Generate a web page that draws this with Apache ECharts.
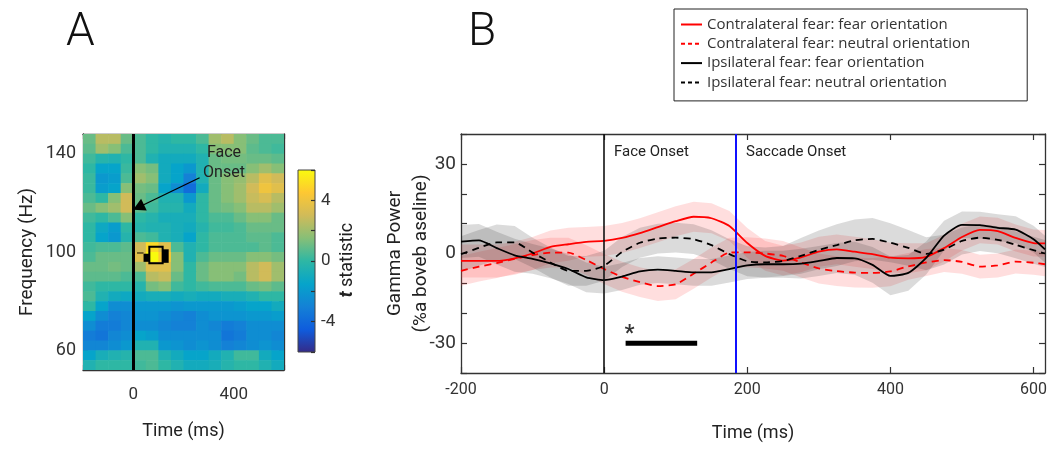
<!DOCTYPE html>
<html><head><meta charset="utf-8">
<script src="https://cdn.jsdelivr.net/npm/echarts@6/dist/echarts.min.js"></script>
<style>html,body{margin:0;padding:0;background:#fff}#c{width:1051px;height:449px}</style>
</head><body><div id="c"></div>
<script>
// ---------- Panel A: time-frequency t statistic ----------
const heatTimes = [-175,-125,-75,-25,25,75,125,175,225,275,325,375,425,475,525,575];
const heatFreqs = [146,142,138,134,130,126,122,118,114,110,106,102,98,94,90,86,82,78,74,70,66,62,58,54];
const heatRows = [
  [1,2.5,2.5,1,0.5,0,-0.3,0,0,0.5,2,2.5,1.5,1,0.5,0.5],
  [0.8,2,1.5,0.5,0.5,0,-0.5,-0.5,-0.5,0,1.5,1.5,1.5,0.8,0.5,0.3],
  [0.3,-0.3,-0.5,0,0.5,-0.5,-1,-1,-1,-0.5,1,1.2,1.2,1,1,0.8],
  [0,-1.5,-1.5,0.2,1.5,1.2,-1,-1.5,-2,-0.5,1,1,1,1.5,2,1.5],
  [0.2,-2,-1.8,0.5,2,1.5,-1,-1.5,-3,-0.5,1,1.5,1.8,2.5,3.5,3],
  [0.2,-1.8,-1.5,1.5,1.2,1,-1.5,-2.5,-3.8,-1,1,1.5,2,3,4,3.5],
  [0.5,0,1.5,3,1,0.5,-0.5,-0.5,-2,0,1,1.5,2,2.8,3.2,2.5],
  [1,1.5,2,3,0.8,0.3,-0.3,-0.3,-1,0,1,1.2,1.5,2.5,2.5,2],
  [0.3,0,0.5,1.5,0,-0.3,-0.8,-0.8,-0.8,0,0.5,0.5,1,1.5,1.5,1],
  [0,-1.2,-1.8,0,-0.3,-0.5,-0.5,-0.8,-1,-0.3,0.3,0.3,0.5,1,1,1],
  [0,-1.5,-2,-0.3,0.5,0.3,-0.5,-0.8,-1.5,0,0.5,0.5,0.5,0.8,0.8,0.5],
  [0.3,0.5,0.5,0.8,3,5,3.5,0.5,-0.5,0,0.5,0.5,0.5,0.5,0.8,0.5],
  [0.5,1,1,1,3.5,6,4.5,1.5,-0.5,0.5,1,1,1,1.5,1.5,1.2],
  [1,1,1.2,1,2,3.5,3.5,1.5,0,1,1.5,1.5,1.5,2.5,3,2],
  [0.8,0.8,0.8,0.5,0.5,2.5,2.8,1,0,1,1.5,1.5,1.2,2.5,3,2],
  [0.3,0,0,0,-0.3,1.2,1.5,0.3,0,0.3,0.5,0.5,0.5,1,1.2,0.8],
  [0.5,-0.5,-1,-1.2,-1,-0.8,-0.8,-1,-0.8,-1,-1,-0.8,-0.8,-0.5,0,0],
  [0,-1.5,-2.5,-2.5,-2,-2,-2,-2.2,-2,-2,-2,-2,-1.8,-1.5,-1.5,-1],
  [-1.5,-2.5,-3,-2.8,-2.2,-2.2,-2.5,-2.8,-3,-2.5,-2.2,-2.2,-2.2,-2,-2,-1.8],
  [-2.5,-3.2,-3.2,-2.8,-2.5,-2.5,-2.8,-3,-3,-2.5,-2.8,-3.2,-3,-2.5,-2.5,-2.5],
  [-3.2,-3.5,-2.8,-2.5,-1.5,-1.8,-2.5,-2.5,-2.5,-2.5,-2.5,-3.5,-3.2,-2.5,-2.5,-2.8],
  [-2.8,-2.8,-2.5,-2,-0.5,-0.5,-2,-2.2,-2.5,-2.2,-2.5,-3,-2.8,-2.5,-2.2,-2.5],
  [-1.5,-0.8,-0.5,-0.3,0.5,0.5,-0.5,-1,-1.5,-1.5,-1,-0.5,0.3,0.3,-1,-1.5],
  [-0.5,0,0,0,0.3,0.5,0,-0.5,-1,-1,-0.8,-0.3,0,0,-0.5,-1]
];
// significant cluster outline pieces (ms, Hz)
const clusterT1 = [64, 41, 117, 15];
const clusterT2 = [117, 64, 141, 41];
const clusterF1 = [95.4, 96.0, 95.6, 99.4];
const clusterF2 = [102.1, 99.3, 101.1, 99.8];
const clusterFilled = [0, 1, 1, 1];
const arrowFrom = [264, 130.2];
const arrowTo = [21, 118.2];
const heatTimeLabels = [0, 400];
const heatFreqLabels = [60, 100, 140];
const colorbarLabels = [-4, 0, 4];

// ---------- Panel B: gamma power ----------
const timeB = [-200,-175,-150,-125,-100,-75,-50,-25,0,25,50,75,100,125,150,175,200,225,250,275,300,325,350,375,400,425,450,475,500,525,550,575,600,616];
const contraFear =    [-2.5,-2.5,-2.5,-1.6,0,2.2,3.1,3.9,4.2,5.2,6.8,8.8,10.8,12.3,11.8,9.2,3.5,-0.8,-2.4,-1.3,0.6,1.4,0.6,-0.2,-1.4,-1.6,-1.1,1.8,5.5,7.9,7.5,5.2,3.5,3.4];
const contraNeutral = [-5.8,-4.4,-3.2,-1.8,-0.5,0.3,0.3,-2.2,-5.2,-7.8,-9.6,-10.9,-10.3,-6.8,-3,0.3,0.4,0,-0.8,-3,-5,-5.9,-6.4,-6.5,-6,-4.3,-3,-2.2,-2.8,-4.4,-4,-2.7,-3.1,-3.6];
const ipsiFear =      [4,4.4,1.8,-0.6,-1.8,-3.3,-5.2,-8,-8.9,-7.7,-6,-5.4,-5.8,-6.3,-6.3,-5.2,-4,-3.6,-3.6,-3.4,-2.5,-1.5,-1.6,-3.8,-7.5,-6.5,-1.5,6,9.6,9.5,8.6,8,4.8,1.4];
const ipsiNeutral =   [-0.2,1.9,3.7,3.7,0.3,-3,-5.8,-5.8,-4.1,0.5,3.6,5,5.3,4.8,2.8,-0.2,-2.6,-3,-2.5,-0.8,1.2,2.8,4.4,4.9,3.6,1.9,-0.1,1.3,4.2,5.3,4.6,2.9,1.1,0];
const contraFearSem =    [5.5,5.5,5.5,5.5,5.5,5.5,5.5,5,5,5,5,5,5,5,5,5,5,5,5,5,5,5,5,5,5,5,4.5,4.5,4.5,4.5,4.5,4.5,4.5,4.5];
const contraNeutralSem = [5,5,5,5,5,5,5,5,5,5,5,5,5,5,5,5,5,5,5,5,5,5,5,5,5,4.5,4.5,4,4,4,4,4,4,4];
const ipsiFearSem =      [5.5,5.5,5.5,5.5,5,5,5,5,4.5,4.5,4.5,4.5,4.5,4.5,4.5,4.5,4.5,4.5,4.5,5,5,5,5.5,6,6.5,6,5.5,5,4.5,4.5,4.5,4.5,4.5,4.5];
const ipsiNeutralSem =   [6,6,6,5.5,5,5,5,5,5,5,5,5,5,5,5,5,5,5,5,6,6.5,7,7,7,6.5,6,5.5,5,4.5,4.5,4.5,4.5,4.5,4.5];
const sigBar = [30, 130];
const sigLevel = -30;
const faceOnsetMs = 0;
const saccadeOnsetMs = 184;
const powerLabels = [-30, 0, 30];
const seriesNames = ['Contralateral fear: fear orientation','Contralateral fear: neutral orientation','Ipsilateral fear: fear orientation','Ipsilateral fear: neutral orientation'];

// ---------- build ----------
const FONT = 'Roboto, "Noto Sans", "DejaVu Sans", sans-serif';
const LEGFONT = '"Open Sans", Roboto, sans-serif';
const TXT = '#222';
const parula = ['#352a87','#0f5cdd','#1481d6','#06a4ca','#2eb7a4','#87bf77','#d1bb59','#fec832','#f9fb0e'];

const heatData = [];
heatFreqs.forEach((f, j) => heatTimes.forEach((t, i) => heatData.push([t, f, heatRows[j][i]])));
const tHalf = (heatTimes[1] - heatTimes[0]) / 2;
const fHalf = (heatFreqs[0] - heatFreqs[1]) / 2;
const clusterData = clusterT1.map((t, i) => [t, clusterT2[i], clusterF1[i], clusterF2[i], clusterFilled[i]]);

const axisLineStyle = {color: '#333', width: 1.3};
function aLine() { return {onZero: false, lineStyle: axisLineStyle}; }
function tick(len) { return {show: true, inside: true, length: len || 5, lineStyle: {color: '#333', width: 1.2}}; }

const series = [];
series.push({
  type: 'custom', name: 'heat', xAxisIndex: 0, yAxisIndex: 0, clip: true,
  encode: {x: 0, y: 1},
  data: heatData,
  renderItem: function (params, api) {
    const t = api.value(0), f = api.value(1);
    const p1 = api.coord([t - tHalf, f + fHalf]);
    const p2 = api.coord([t + tHalf, f - fHalf]);
    return {type: 'rect', shape: {x: p1[0], y: p1[1], width: p2[0] - p1[0] + 0.6, height: p2[1] - p1[1] + 0.6},
            style: {fill: api.visual('color')}};
  },
  markLine: {
    silent: true, animation: false,
    label: {show: false},
    data: [
      {xAxis: 0, symbol: 'none', lineStyle: {color: '#000', width: 3, type: 'solid'}},
      [{coord: arrowFrom, symbol: 'none', lineStyle: {color: '#000', width: 1.3, type: 'solid'}},
       {coord: arrowTo, symbol: 'triangle', symbolSize: [13, 12]}]
    ],
    symbol: ['none', 'none']
  }
});
series.push({
  type: 'custom', name: 'cluster', xAxisIndex: 0, yAxisIndex: 0, clip: true,
  encode: {x: [0, 1], y: [2, 3]},
  data: clusterData,
  renderItem: function (params, api) {
    const p1 = api.coord([api.value(0), api.value(3)]);
    const p2 = api.coord([api.value(1), api.value(2)]);
    const filled = api.value(4) === 1;
    return {type: 'rect', shape: {x: p1[0], y: p1[1], width: p2[0] - p1[0], height: p2[1] - p1[1]},
            style: filled ? {fill: '#000'} : {fill: null, stroke: '#000', lineWidth: 2}};
  }
});

const means = [contraFear, contraNeutral, ipsiFear, ipsiNeutral];
const sems = [contraFearSem, contraNeutralSem, ipsiFearSem, ipsiNeutralSem];
const bandColors = ['rgba(255,60,60,0.17)', 'rgba(255,60,60,0.17)', 'rgba(40,40,40,0.17)', 'rgba(40,40,40,0.17)'];
const lineColors = ['#ff0000', '#ff0000', '#000000', '#000000'];
const lineTypes = ['solid', [7, 5], 'solid', [7, 5]];
const legendTypes = ['solid', [4, 3], 'solid', [4, 3]];
const SMOOTH = 0.2;
means.forEach((m, k) => {
  series.push({
    type: 'custom', xAxisIndex: 3, yAxisIndex: 3, silent: true, z: 1, clip: true,
    encode: {x: 0, y: [1, 2]},
    data: m.map((v, i) => [timeB[i], v - sems[k][i], v + sems[k][i]]),
    renderItem: function (params, api) {
      if (params.dataIndexInside !== 0) return;
      const n = params.dataInsideLength;
      const up = [], lo = [];
      for (let i = 0; i < n; i++) {
        up.push(api.coord([api.value(0, i), api.value(2, i)]));
        lo.push(api.coord([api.value(0, i), api.value(1, i)]));
      }
      return {type: 'polygon', shape: {points: up.concat(lo.reverse())}, style: {fill: bandColors[k]}};
    }
  });
});
means.forEach((m, k) => {
  const s = {
    type: 'line', name: seriesNames[k], xAxisIndex: 3, yAxisIndex: 3, symbol: 'none', showSymbol: false, smooth: SMOOTH, z: 3,
    lineStyle: {color: lineColors[k], width: 1.8, type: lineTypes[k]},
    itemStyle: {color: lineColors[k]},
    data: m.map((v, i) => [timeB[i], v])
  };
  if (k === 0) {
    s.markLine = {
      silent: true, symbol: 'none', label: {show: false}, animation: false,
      data: [
        {xAxis: faceOnsetMs, lineStyle: {color: '#111', width: 1.6, type: 'solid'}},
        {xAxis: saccadeOnsetMs, lineStyle: {color: '#1010ff', width: 2, type: 'solid'}}
      ]
    };
  }
  series.push(s);
});
series.push({
  type: 'line', xAxisIndex: 3, yAxisIndex: 3, symbol: 'none', z: 4, silent: true,
  lineStyle: {color: '#000', width: 5},
  data: sigBar.map(t => [t, sigLevel])
});
series.push({
  type: 'scatter', xAxisIndex: 3, yAxisIndex: 3, symbol: 'circle', symbolSize: 0.1, itemStyle: {color: 'rgba(0,0,0,0)'}, silent: true, z: 5,
  label: {show: true, formatter: '*', position: 'top', distance: 2, offset: [4, 4], color: '#000', fontSize: 22, fontWeight: 'bold', fontFamily: FONT},
  data: [[sigBar[0], sigLevel]]
});

const option = {
  animation: false,
  backgroundColor: '#fff',
  textStyle: {fontFamily: FONT},
  grid: [
    {left: 83, top: 134, width: 201, height: 236},
    {left: 298, top: 170, width: 17, height: 182, show: true, borderColor: '#444', borderWidth: 1,
     backgroundColor: {type: 'linear', x: 0, y: 0, x2: 0, y2: 1,
       colorStops: parula.slice().reverse().map((c, i, a) => ({offset: i / (a.length - 1), color: c}))}},
    {left: 461, top: 134, width: 584, height: 239}
  ],
  visualMap: [{
    type: 'continuous', show: false, seriesIndex: 0, dimension: 2, min: -6, max: 6,
    inRange: {color: parula}
  }],
  xAxis: [
    {gridIndex: 0, type: 'value', min: -200, max: 600, interval: 200, position: 'bottom',
     axisLine: aLine(), axisTick: tick(5), splitLine: {show: false},
     axisLabel: {color: '#333', fontSize: 17, margin: 16, formatter: v => heatTimeLabels.includes(v) ? String(v) : ''},
     name: 'Time (ms)', nameLocation: 'middle', nameGap: 52, nameTextStyle: {color: TXT, fontSize: 18}},
    {gridIndex: 0, type: 'value', min: -200, max: 600, interval: 200, position: 'top',
     axisLine: aLine(), axisTick: tick(5), axisLabel: {show: false}, splitLine: {show: false}},
    {gridIndex: 1, type: 'value', min: 0, max: 1, show: false},
    {gridIndex: 2, type: 'value', min: -200, max: 616, interval: 200, position: 'bottom',
     axisLine: aLine(), axisTick: tick(6), splitLine: {show: false},
     axisLabel: {color: '#333', fontSize: 16, margin: 9, showMaxLabel: false},
     name: 'Time (ms)', nameLocation: 'middle', nameGap: 51, nameTextStyle: {color: TXT, fontSize: 18}},
    {gridIndex: 2, type: 'value', min: -200, max: 616, interval: 200, position: 'top',
     axisLine: aLine(), axisTick: tick(6), axisLabel: {show: false}, splitLine: {show: false}}
  ],
  yAxis: [
    {gridIndex: 0, type: 'value', min: 52, max: 148, position: 'left',
     axisLine: aLine(), axisTick: Object.assign(tick(5), {customValues: [60, 80, 100, 120, 140]}),
     splitLine: {show: false},
     axisLabel: {color: '#333', fontSize: 18, margin: 7, customValues: heatFreqLabels, formatter: v => heatFreqLabels.includes(v) ? String(v) : ''},
     name: 'Frequency (Hz)', nameLocation: 'middle', nameGap: 46, nameTextStyle: {color: TXT, fontSize: 19}},
    {gridIndex: 0, type: 'value', min: 52, max: 148, position: 'right',
     axisLine: aLine(), axisTick: Object.assign(tick(5), {customValues: [60, 80, 100, 120, 140]}),
     axisLabel: {show: false}, splitLine: {show: false}},
    {gridIndex: 1, type: 'value', min: -6, max: 6, interval: 2, position: 'right',
     axisLine: {show: false, onZero: false}, axisTick: tick(4), splitLine: {show: false},
     axisLabel: {color: '#333', fontSize: 17, margin: 6, formatter: v => colorbarLabels.includes(v) ? String(v) : ''}},
    {gridIndex: 2, type: 'value', min: -40, max: 40, interval: 10, position: 'left',
     axisLine: aLine(), axisTick: tick(6), splitLine: {show: false},
     axisLabel: {color: '#333', fontSize: 19, margin: 5, formatter: v => powerLabels.includes(v) ? String(v) : ''},
     name: 'Gamma Power\n(%a boveb aseline)', nameLocation: 'middle', nameGap: 27, nameMoveOverlap: false,
     nameTextStyle: {color: TXT, fontSize: 19, lineHeight: 26}},
    {gridIndex: 2, type: 'value', min: -40, max: 40, interval: 10, position: 'right',
     axisLine: aLine(), axisTick: tick(6), axisLabel: {show: false}, splitLine: {show: false}}
  ],
  legend: {
    data: seriesNames.map((n, k) => ({name: n, itemStyle: {opacity: 0}, lineStyle: {color: lineColors[k], width: 2, type: legendTypes[k]}})),
    orient: 'vertical', left: 674, top: 9,
    padding: [8, 57, 11, 6], itemGap: 4.3, itemWidth: 21, itemHeight: 14,
    borderColor: '#222', borderWidth: 1, backgroundColor: '#fff',
    textStyle: {color: '#333', fontSize: 15, fontFamily: LEGFONT}
  },
  graphic: [
    {type: 'text', left: 66, top: 10, style: {text: 'A', font: '300 46px ' + FONT, fill: '#111'}},
    {type: 'text', left: 468, top: 10, style: {text: 'B', font: '300 46px ' + FONT, fill: '#111'}},
    {type: 'text', x: 224, y: 163, style: {text: 'Face\nOnset', font: '16px ' + FONT, fill: TXT, align: 'center', verticalAlign: 'middle', lineHeight: 20}, z: 10},
    {type: 'text', x: 614, y: 152, style: {text: 'Face Onset', font: '15px ' + FONT, fill: TXT, verticalAlign: 'middle'}, z: 10},
    {type: 'text', x: 746, y: 152, style: {text: 'Saccade Onset', font: '15px ' + FONT, fill: TXT, verticalAlign: 'middle'}, z: 10},
    {type: 'text', x: 347, y: 260, rotation: Math.PI / 2,
     style: {text: '{it|t} statistic', align: 'center', verticalAlign: 'middle', font: '18px ' + FONT, fill: TXT,
             rich: {it: {fontStyle: 'italic', fontWeight: 'bold', fontSize: 18, fontFamily: FONT, fill: TXT}}}}
  ],
  series: series
};

const chart = echarts.init(document.getElementById('c'));
chart.setOption(option);
</script>
</body></html>
